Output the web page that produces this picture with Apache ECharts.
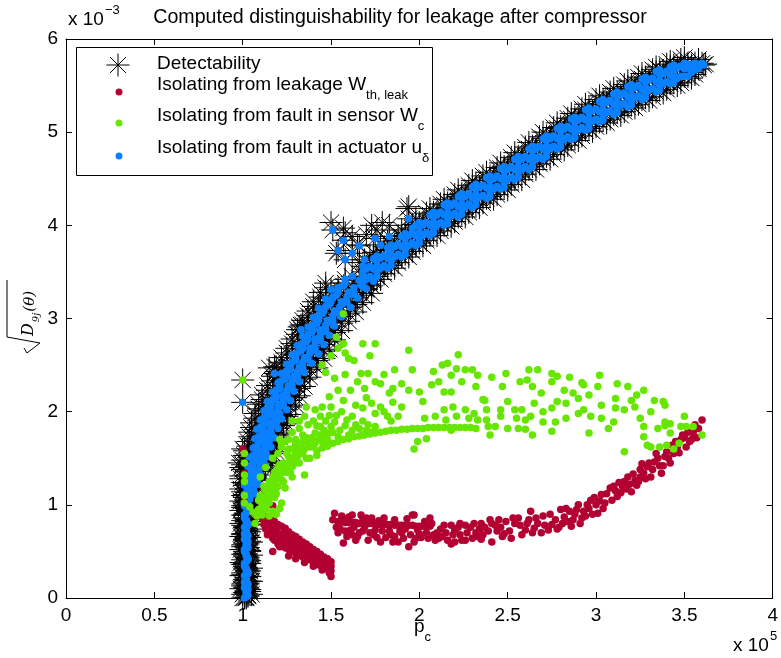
<!DOCTYPE html>
<html>
<head>
<meta charset="utf-8">
<title>Computed distinguishability for leakage after compressor</title>
<script src="https://cdn.jsdelivr.net/npm/echarts@6/dist/echarts.min.js"></script>
<style>
  html, body { margin: 0; padding: 0; background: #fff; }
  #chart { width: 781px; height: 658px; }
</style>
</head>
<body>
<div id="chart"></div>
<script>
// ---- DATA (x in 1e5, y in 1e-3) ----
const xTicks = { min: 0, max: 4, step: 0.5 };
const yTicks = { min: 0, max: 6, step: 1 };

// points where only the detectability star shows (the rest sit under the blue dots)
const detectOnlyPoints = [
  // spike at p_c ~ 1e5
  [1.0,0.0],[1.03,0.02],[1.01,0.06],[1.04,0.09],[1.0,0.13],[1.03,0.16],[1.01,0.2],[1.04,0.23],[1.0,0.27],[1.03,0.3],
  [1.01,0.34],[1.04,0.37],[1.0,0.41],[1.03,0.44],[1.01,0.48],[1.04,0.51],[1.0,0.55],[1.03,0.58],[1.01,0.62],[1.04,0.65],
  [1.0,0.69],[1.03,0.72],[1.01,0.76],[1.04,0.79],[1.0,0.83],[1.03,0.86],[1.01,0.9],[1.04,0.93],[1.0,0.97],[1.03,1.0],
  [0.99,1.04],[1.05,1.06],[1.0,1.1],[1.06,1.13],[0.99,1.17],[1.05,1.2],[1.0,1.24],[1.07,1.27],[0.99,1.31],[1.06,1.34],
  [1.0,1.38],[0.98,1.45],[1.0,1.6],[1.01,1.08],[1.05,0.04],[1.05,0.18],[1.05,0.32],[1.05,0.46],[1.05,0.6],[1.05,0.74],
  [0.99,0.1],[0.99,0.24],[0.99,0.38],[0.99,0.52],[0.99,0.66],[0.99,0.8],[0.99,0.94],
  [1.02,0.0],[1.0,0.04],[1.04,0.07],[1.02,0.11],[1.0,0.15],[1.04,0.18],[1.02,0.22],[1.0,0.25],[1.04,0.29],[1.02,0.33],
  [1.0,0.36],[1.04,0.4],[1.02,0.43],[1.0,0.47],[1.04,0.5],[1.02,0.54],[1.0,0.57],[1.04,0.61],[1.02,0.64],[1.0,0.68],
  [1.04,0.71],[1.02,0.75],[1.0,0.78],[1.04,0.82],[1.02,0.85],[1.0,0.89],[1.04,0.92],[1.02,0.96],[1.0,0.99],[1.04,1.03],
  [1.0,1.14],[1.03,1.22],[0.99,1.28],[1.02,1.36],[0.99,1.4],
  // edges of the band
  [1.0,1.43],[1.16,1.37],[1.01,1.53],[1.17,1.47],[1.03,1.63],[1.19,1.57],[1.04,1.73],[1.2,1.67],[1.05,1.83],[1.23,1.77],
  [1.07,1.93],[1.25,1.87],[1.09,2.03],[1.27,1.97],[1.11,2.13],[1.3,2.07],[1.14,2.23],[1.32,2.17],[1.17,2.33],[1.35,2.27],
  [1.19,2.43],[1.38,2.37],[1.22,2.53],[1.42,2.47],[1.25,2.63],[1.46,2.57],[1.28,2.73],[1.49,2.67],[1.31,2.83],[1.52,2.77],
  [1.34,2.93],[1.56,2.87],[1.37,3.03],[1.6,2.97],[1.4,3.13],[1.64,3.07],[1.44,3.23],[1.68,3.17],[1.47,3.33],[1.73,3.27],
  [1.0,1.48],[1.16,1.45],[1.01,1.58],[1.17,1.55],[1.03,1.68],[1.19,1.65],[1.04,1.78],[1.2,1.75],[1.05,1.88],[1.23,1.85],
  [1.07,1.98],[1.25,1.95],[1.09,2.08],[1.27,2.05],[1.11,2.18],[1.3,2.15],[1.14,2.28],[1.32,2.25],[1.17,2.38],[1.35,2.35],
  [1.19,2.48],[1.38,2.45],[1.22,2.58],[1.42,2.55],[1.25,2.68],[1.46,2.65],[1.28,2.78],[1.49,2.75],[1.31,2.88],[1.52,2.85],
  [1.34,2.98],[1.56,2.95],[1.37,3.08],[1.6,3.05],[1.4,3.18],[1.64,3.15],[1.44,3.28],[1.68,3.25],[1.47,3.38],[1.73,3.35],
  [1.66,3.6],[1.7,3.31],[1.74,3.71],[1.78,3.42],[1.82,3.83],[1.86,3.54],[1.9,3.95],[1.94,3.66],[1.98,4.07],[2.02,3.78],
  [2.06,4.18],[2.1,3.89],[2.14,4.28],[2.18,3.99],[2.22,4.38],[2.26,4.09],[2.3,4.48],[2.34,4.19],[2.38,4.57],[2.42,4.28],
  [2.46,4.67],[2.5,4.38],[2.54,4.78],[2.58,4.49],[2.62,4.89],[2.66,4.6],[2.7,5.0],[2.74,4.71],[2.78,5.1],[2.82,4.81],
  [2.86,5.2],[2.9,4.91],[2.94,5.3],[2.98,5.01],[3.02,5.39],[3.06,5.1],[3.1,5.47],[3.14,5.18],[3.18,5.55],[3.22,5.26],
  [3.26,5.63],[3.3,5.34],[3.34,5.7],[3.38,5.42],[3.42,5.76],[3.46,5.5],[3.5,5.8],[3.54,5.58],[3.62,5.73],[3.58,5.78],
  [1.72,3.66],[1.72,3.37],[1.8,3.77],[1.8,3.48],[1.88,3.89],[1.88,3.6],[1.96,4.01],[1.96,3.72],[2.04,4.13],[2.04,3.84],
  [2.12,4.23],[2.12,3.94],[2.2,4.33],[2.2,4.04],[2.28,4.43],[2.28,4.14],[2.36,4.53],[2.36,4.24],[2.44,4.62],[2.44,4.33],
  [2.52,4.73],[2.52,4.44],[2.6,4.84],[2.6,4.55],[2.68,4.95],[2.68,4.66],[2.76,5.05],[2.76,4.76],[2.84,5.15],[2.84,4.86],
  [2.92,5.25],[2.92,4.96],[3.0,5.35],[3.0,5.06],[3.08,5.43],[3.08,5.14],[3.16,5.51],[3.16,5.22],[3.24,5.59],[3.24,5.3],
  [3.32,5.67],[3.32,5.38],[3.4,5.73],[3.4,5.46],[3.48,5.78],[3.48,5.53],[3.56,5.62],
  // stray stars above the band
  [1.0,2.34],[1.15,2.47],[1.33,2.93],[1.5,4.03],[1.58,3.92],[1.65,3.79],[1.76,3.95],[1.79,4.03],[1.93,4.18],
  [1.57,3.97],[1.73,4.0],[1.83,4.0],[1.94,4.2],[1.62,3.88],[1.7,3.9],[1.53,3.7],[1.32,2.91],[1.18,2.48]
];

const leakPoints = [
  [1.01,1.55],[1.01,1.34],[1.01,1.03],[1.0,1.6],[1.1,0.93],[1.17,0.99],
  // first arm, falling
  [1.11,0.86],[1.12,0.79],[1.13,0.83],[1.13,0.74],[1.14,0.8],[1.15,0.71],[1.15,0.78],[1.16,0.68],[1.17,0.75],[1.17,0.64],
  [1.18,0.72],[1.19,0.62],[1.19,0.7],[1.2,0.58],[1.21,0.68],[1.21,0.55],[1.22,0.64],[1.23,0.58],[1.24,0.66],[1.24,0.54],
  [1.25,0.6],[1.26,0.52],[1.27,0.6],[1.28,0.5],[1.29,0.56],[1.3,0.48],[1.31,0.54],[1.32,0.46],[1.33,0.52],[1.34,0.44],
  [1.35,0.5],[1.36,0.42],[1.37,0.48],[1.38,0.41],[1.39,0.45],[1.4,0.38],[1.41,0.43],[1.42,0.36],[1.43,0.41],[1.44,0.35],
  [1.45,0.39],[1.46,0.33],[1.47,0.38],[1.48,0.31],[1.49,0.36],[1.5,0.29],[1.5,0.34],[1.5,0.23],[1.17,0.5],[1.24,0.75],
  [1.34,0.57],[1.26,0.45],[1.2,0.77],[1.28,0.62],
  [1.12,0.88],[1.14,0.86],[1.16,0.84],[1.18,0.82],[1.2,0.79],[1.22,0.77],[1.24,0.74],[1.26,0.71],[1.28,0.68],[1.3,0.66],
  [1.32,0.63],[1.34,0.6],[1.36,0.58],[1.38,0.55],[1.4,0.52],[1.42,0.5],[1.44,0.47],[1.46,0.44],[1.48,0.42],[1.5,0.39],
  [1.15,0.75],[1.19,0.74],[1.23,0.7],[1.27,0.64],[1.31,0.6],[1.35,0.55],[1.39,0.5],[1.43,0.45],[1.47,0.41],[1.14,0.68],
  [1.18,0.62],[1.22,0.6],[1.26,0.56],[1.3,0.52],[1.34,0.48],[1.38,0.44],[1.42,0.39],[1.46,0.36],[1.49,0.27],[1.45,0.3],
  [1.4,0.34],[1.35,0.38],[1.3,0.42],
  // second arm, thin line
  [1.54,0.82],[1.56,0.82],[1.58,0.81],[1.6,0.81],[1.62,0.81],[1.64,0.81],[1.66,0.8],[1.68,0.8],[1.7,0.8],[1.72,0.8],
  [1.74,0.8],[1.76,0.79],[1.78,0.79],[1.8,0.79],[1.82,0.79],[1.84,0.79],[1.86,0.78],[1.88,0.78],[1.9,0.78],[1.92,0.78],
  [1.94,0.78],[1.96,0.78],[1.98,0.77],[2.0,0.77],[2.02,0.77],[2.04,0.77],[2.06,0.77],
  // second arm, scatter
  [1.52,0.91],[1.54,0.7],[1.53,0.76],[1.57,0.59],[1.56,0.88],[1.59,0.66],[1.62,0.89],[1.61,0.73],[1.64,0.62],[1.67,0.89],
  [1.66,0.7],[1.69,0.76],[1.71,0.62],[1.73,0.86],[1.74,0.68],[1.77,0.83],[1.78,0.6],[1.81,0.65],[1.83,0.72],[1.86,0.84],
  [1.88,0.6],[1.9,0.7],[1.94,0.55],[1.97,0.89],[1.99,0.73],[2.03,0.82],[2.05,0.64],[2.09,0.62],[2.12,0.74],[2.15,0.7],
  [2.18,0.58],[2.2,0.73],[2.23,0.68],[2.26,0.62],[2.29,0.76],[2.32,0.7],[2.35,0.63],[2.37,0.76],[2.4,0.84],[2.41,0.6],
  [2.44,0.72],[2.47,0.66],[1.96,0.89],[1.92,0.74],[2.0,0.69],[2.07,0.8],[2.13,0.66],[2.18,0.78],[2.26,0.78],[2.33,0.66],
  [2.41,0.8],[2.45,0.84],[2.48,0.69],[2.54,0.8],[2.6,0.73],[2.63,0.93],[2.67,0.8],[2.73,0.73],[2.77,0.84],[2.82,0.87],
  [2.86,0.77],[2.9,1.0],[2.93,0.93],[2.97,1.05],[3.01,0.91],[3.03,1.11],[3.08,1.18],[3.12,1.09],[3.16,1.25],[3.2,1.14],
  [3.23,1.21],[3.27,1.34],[3.29,1.41],[3.31,1.3],[3.33,1.46],[3.37,1.34],[3.39,1.52],[3.4,1.57],[3.42,1.45],[3.46,1.62],
  [3.48,1.7],[3.51,1.62],[3.55,1.77],[3.6,1.91],[2.56,0.86],[2.58,0.68],[2.65,0.75],[2.7,0.88],[2.75,0.79],[2.8,0.95],
  [2.84,0.82],[2.88,0.9],[2.95,1.0],[2.99,1.08],[3.05,1.02],[3.1,1.2],[3.14,1.13],[3.18,1.3],[3.22,1.26],[3.25,1.38],
  [3.3,1.45],[3.35,1.5],[3.38,1.42],[3.44,1.55],[3.45,1.68],[3.5,1.72],[3.53,1.68],[3.58,1.82],[3.57,1.72],[3.25,1.3],
  [3.15,1.2],[3.0,1.0],[2.92,0.86],[2.85,0.93],[2.2,0.6],[2.1,0.7],[1.98,0.64],[1.86,0.66],[1.75,0.73],[1.62,0.68],
  [1.58,0.84],[1.68,0.85],[2.52,0.64],[2.62,0.84],[2.69,0.7],[2.79,0.76],[2.35,0.8],[2.23,0.8],
  [1.51,0.84],[1.55,0.75],[1.58,0.72],[1.6,0.87],[1.63,0.76],[1.65,0.66],[1.68,0.72],[1.7,0.86],[1.72,0.7],[1.76,0.65],
  [1.79,0.72],[1.8,0.86],[1.84,0.68],[1.85,0.6],[1.89,0.72],[1.91,0.64],[1.93,0.85],[1.95,0.68],[1.97,0.6],[2.01,0.65],
  [2.04,0.7],[2.06,0.86],[2.08,0.68],[2.11,0.64],[2.14,0.78],[2.16,0.62],[2.19,0.68],[2.22,0.76],[2.24,0.62],[2.27,0.7],
  [2.3,0.64],[2.31,0.8],[2.34,0.74],[2.36,0.68],[2.39,0.72],[2.43,0.78],[2.46,0.76],[2.49,0.82],[2.51,0.72],[2.53,0.86],
  [2.57,0.78],[2.61,0.8],[2.64,0.7],[2.66,0.86],[2.71,0.78],[2.74,0.9],[2.78,0.74],[2.81,0.8],[2.83,0.96],[2.87,0.84],
  [2.89,0.95],[2.91,0.8],[2.94,0.88],[2.96,0.96],[2.98,0.9],[3.02,1.04],[3.04,0.96],[3.06,1.12],[3.09,1.05],[3.11,1.15],
  [3.13,1.24],[3.17,1.17],[3.19,1.22],[3.21,1.33],[3.24,1.25],[3.26,1.44],[3.28,1.28],[3.32,1.38],[3.34,1.55],[3.36,1.42],
  [3.41,1.5],[3.43,1.64],[3.47,1.56],[3.49,1.75],[3.52,1.78],[3.54,1.7],[3.56,1.86]
];

const sensorPoints = [
  [1.0,2.34],[1.01,1.45],[1.01,1.25],[1.01,1.1],[1.57,3.05],
  // near the band
  [1.75,2.73],[1.68,2.73],[1.57,2.73],[1.58,2.63],[1.54,2.68],[1.6,2.57],[1.67,2.41],[1.71,2.41],[1.75,2.32],[1.52,2.36],
  [1.65,2.32],[1.54,2.23],[1.61,2.23],[1.69,2.25],[1.49,2.16],[1.57,2.12],[1.64,2.07],[1.68,2.04],[1.73,2.09],[1.75,1.98],
  [1.36,2.05],[1.41,2.02],[1.44,1.95],[1.49,1.96],[1.53,1.96],[1.59,1.91],[1.64,1.86],[1.71,1.86],[1.32,1.82],[1.37,1.86],
  [1.44,1.84],[1.5,1.84],[1.52,1.89],[1.28,1.78],[1.34,1.75],[1.41,1.77],[1.49,1.77],[1.54,1.73],[1.6,1.75],[1.68,1.75],
  [1.73,1.78],[1.75,1.84],[1.24,1.68],[1.3,1.66],[1.37,1.7],[1.45,1.68],[1.22,1.62],[1.21,1.7],
  [1.22,1.66],[1.3,1.64],[1.37,1.66],[1.47,1.66],[1.42,1.53],[1.34,1.55],[1.26,1.52],[1.21,1.43],[1.28,1.41],[1.35,1.32],
  [1.17,1.3],[1.22,1.27],[1.13,1.16],[1.19,1.12],[1.24,1.18],[1.09,1.05],[1.15,1.02],[1.21,0.96],[1.17,0.93],[1.11,0.89],
  [1.07,0.8],[1.04,0.98],[1.01,1.02],[1.01,1.55],[1.01,1.32],
  [1.1,1.1],[1.12,1.2],[1.15,1.25],[1.18,1.35],[1.2,1.4],[1.23,1.45],[1.25,1.35],[1.27,1.5],[1.3,1.55],[1.32,1.45],
  [1.35,1.6],[1.38,1.5],[1.4,1.62],[1.43,1.7],[1.3,1.7],[1.26,1.6],[1.33,1.62],[1.36,1.72],[1.47,1.75],[1.16,1.15],
  [1.2,1.2],[1.14,1.05],[1.18,1.08],[1.23,1.25],[1.28,1.3],[1.06,0.92],[1.09,0.95],[1.12,0.98],[1.22,1.02],[1.15,0.88],
  [1.19,0.9],[1.1,1.3],[1.13,1.4],[1.17,1.5],[1.2,1.55],[1.28,1.9],[1.35,1.95],[1.4,1.9],[1.45,2.05],[1.5,2.05],
  [1.56,2.0],[1.62,1.95],[1.68,1.9],[1.7,2.15],[1.78,2.05],[1.82,1.95],[1.85,2.25],[1.8,2.4],[1.58,2.4],[1.63,2.55],
  [1.72,2.6],[1.85,2.1],[1.9,2.3],[1.8,2.0],[1.83,2.2],[1.86,2.45],[1.78,2.3],[1.84,1.9],[1.45,2.5],[1.5,2.6],
  [1.53,2.8],[1.47,2.42],
  [1.12,1.08],[1.14,1.12],[1.16,1.2],[1.18,1.22],[1.19,1.28],[1.21,1.33],[1.22,1.38],[1.24,1.4],[1.26,1.45],[1.27,1.42],
  [1.29,1.5],[1.31,1.52],[1.33,1.58],[1.25,1.55],[1.28,1.6],[1.31,1.6],[1.34,1.68],[1.38,1.62],[1.39,1.72],[1.41,1.66],
  [1.44,1.75],[1.46,1.8],[1.48,1.7],[1.51,1.78],[1.55,1.8],[1.58,1.85],[1.62,1.8],[1.66,1.82],[1.7,1.8],[1.23,1.35],
  [1.2,1.3],[1.17,1.2],[1.14,1.15],[1.11,1.0],[1.13,0.95],[1.08,0.88],[1.16,1.1],[1.19,1.18],[1.27,1.35],[1.3,1.45],
  [1.36,1.5],[1.26,1.7],[1.32,1.9],[1.42,1.85],[1.47,1.9],
  // thin line
  [1.42,1.58],[1.45,1.61],[1.48,1.63],[1.51,1.66],[1.54,1.68],[1.57,1.7],[1.6,1.71],[1.63,1.73],[1.66,1.74],[1.69,1.75],
  [1.72,1.76],[1.75,1.77],[1.78,1.78],[1.81,1.79],[1.84,1.8],[1.87,1.8],[1.9,1.81],[1.93,1.81],[1.96,1.82],[1.99,1.82],
  [2.02,1.82],[2.05,1.83],[2.08,1.83],[2.11,1.83],[2.14,1.83],[2.17,1.83],[2.2,1.83],[2.23,1.83],[2.26,1.83],[2.29,1.83],
  [2.32,1.82],
  // right cloud
  [1.94,2.66],[2.22,2.61],[1.96,2.45],[2.08,2.43],[2.13,2.5],[2.16,2.52],[2.21,2.46],[2.18,2.39],[2.26,2.45],[2.3,2.45],
  [2.33,2.39],[2.41,2.37],[2.49,2.41],[2.62,2.45],[2.67,2.45],[2.75,2.41],[2.78,2.38],[2.85,2.37],[2.92,2.31],[3.02,2.39],
  [3.12,2.3],[3.18,2.27],[3.27,2.23],[2.11,2.32],[2.07,2.29],[2.14,2.21],[2.18,2.21],[2.24,2.32],[2.32,2.27],[2.37,2.12],
  [2.47,2.27],[2.57,2.32],[2.61,2.34],[2.64,2.27],[2.69,2.2],[2.75,2.32],[2.82,2.23],[2.87,2.2],[2.93,2.29],[3.01,2.27],
  [3.11,2.14],[3.2,2.12],[3.23,2.18],[3.33,2.12],[3.38,2.11],[1.94,2.23],[2.0,2.21],[2.02,2.11],[1.9,2.05],[2.14,2.02],
  [2.19,2.05],[2.26,2.02],[2.31,1.98],[2.36,2.13],[2.38,2.02],[2.46,2.02],[2.5,2.11],[2.54,2.02],[2.58,2.02],[2.65,2.09],
  [2.7,2.0],[2.75,2.04],[2.78,2.11],[2.83,2.09],[2.9,2.14],[2.93,2.02],[2.96,2.18],[3.03,2.07],[3.11,2.04],[3.16,2.02],
  [3.22,2.05],[3.31,2.0],[3.39,2.07],[3.5,1.95],[1.88,1.95],[2.03,1.93],[2.09,1.95],[2.15,1.91],[2.21,1.95],[2.28,1.93],
  [2.33,1.91],[2.38,1.91],[2.46,1.95],[2.55,1.93],[2.6,1.91],[2.63,1.95],[2.7,1.89],[2.77,1.89],[2.83,1.93],[2.9,1.98],
  [2.97,1.95],[3.03,1.93],[3.1,1.89],[3.25,1.93],[3.39,1.89],[3.42,1.87],[3.48,1.84],[3.55,1.84],[3.6,1.75],[2.18,1.8],
  [2.39,1.84],[2.43,1.84],[2.5,1.82],[2.56,1.82],[2.6,1.81],[2.75,1.79],[2.96,1.77],[3.07,1.82],[3.27,1.84],[3.35,1.82],
  [3.39,1.85],[3.42,1.77],[3.51,1.84],[2.64,1.75],[2.4,1.75],[1.99,1.68],[2.04,1.71],[1.97,1.6],[3.27,1.73],[3.29,1.64],
  [3.31,1.62],[3.36,1.62],[3.4,1.64],[3.44,1.6],[3.47,1.66],[3.16,1.57]
];

const actuatorPoints = [
  // spike
  [1.01,0.0],[1.03,0.03],[1.02,0.07],[1.01,0.11],[1.03,0.15],[1.02,0.19],[1.01,0.24],[1.03,0.28],[1.02,0.32],[1.01,0.37],
  [1.03,0.41],[1.02,0.45],[1.01,0.5],[1.03,0.54],[1.02,0.58],[1.01,0.63],[1.03,0.67],[1.02,0.71],[1.01,0.76],[1.03,0.8],
  [1.02,0.84],[1.01,0.89],[1.03,0.93],[1.02,0.97],
  [1.02,0.01],[1.02,0.05],[1.03,0.09],[1.02,0.13],[1.01,0.17],[1.02,0.22],[1.03,0.26],[1.02,0.3],[1.01,0.34],[1.02,0.39],
  [1.03,0.43],[1.02,0.47],[1.01,0.52],[1.02,0.56],[1.03,0.6],[1.02,0.65],[1.01,0.69],[1.02,0.73],[1.03,0.78],[1.02,0.82],
  [1.01,0.86],[1.02,0.91],[1.03,0.95],[1.01,0.99],
  // steep part
  [1.01,1.01],[1.02,0.98],[1.03,1.02],[1.02,1.05],[1.04,1.06],[1.01,1.11],[1.04,1.08],[1.07,1.12],[1.03,1.15],[1.06,1.16],
  [1.01,1.21],[1.05,1.18],[1.09,1.22],[1.04,1.25],[1.08,1.26],[1.02,1.31],[1.06,1.28],[1.1,1.32],[1.05,1.35],[1.09,1.36],
  [1.03,1.41],[1.08,1.38],[1.13,1.42],[1.06,1.45],[1.11,1.46],[1.04,1.51],[1.09,1.48],[1.14,1.52],[1.08,1.55],[1.13,1.56],
  [1.06,1.61],[1.11,1.58],[1.16,1.62],[1.09,1.65],[1.14,1.66],[1.07,1.71],[1.12,1.68],[1.18,1.72],[1.11,1.75],[1.16,1.76],
  [1.08,1.81],[1.14,1.78],[1.2,1.82],[1.12,1.85],[1.18,1.86],[1.1,1.91],[1.16,1.88],[1.22,1.92],[1.14,1.95],[1.2,1.96],
  [1.12,2.01],[1.18,1.98],[1.25,2.02],[1.16,2.05],[1.22,2.06],[1.14,2.11],[1.2,2.08],[1.27,2.12],[1.19,2.15],[1.25,2.16],
  [1.17,2.21],[1.23,2.18],[1.29,2.22],[1.21,2.25],[1.27,2.26],[1.2,2.31],[1.26,2.28],[1.32,2.32],[1.24,2.35],[1.3,2.36],
  [1.22,2.41],[1.29,2.38],[1.35,2.42],[1.27,2.45],[1.33,2.46],[1.25,2.51],[1.32,2.48],[1.39,2.52],[1.3,2.55],[1.36,2.56],
  [1.28,2.61],[1.35,2.58],[1.43,2.62],[1.33,2.65],[1.4,2.66],[1.31,2.71],[1.38,2.68],[1.46,2.72],[1.36,2.75],[1.43,2.76],
  [1.34,2.81],[1.41,2.78],[1.49,2.82],[1.39,2.85],[1.46,2.86],[1.37,2.91],[1.44,2.88],[1.52,2.92],[1.42,2.95],[1.5,2.96],
  [1.4,3.01],[1.48,2.98],[1.56,3.02],[1.45,3.05],[1.53,3.06],[1.43,3.11],[1.52,3.08],[1.61,3.12],[1.49,3.15],[1.57,3.16],
  [1.47,3.21],[1.56,3.18],[1.65,3.22],[1.53,3.25],[1.62,3.26],[1.5,3.31],[1.6,3.28],[1.7,3.32],[1.57,3.35],[1.67,3.36],
  [1.01,1.03],[1.02,1.03],[1.02,1.08],[1.03,1.08],[1.02,1.13],[1.05,1.13],[1.03,1.18],[1.06,1.18],[1.03,1.23],[1.06,1.23],
  [1.04,1.28],[1.08,1.28],[1.04,1.33],[1.07,1.33],[1.05,1.38],[1.09,1.38],[1.05,1.43],[1.1,1.43],[1.07,1.48],[1.12,1.48],
  [1.06,1.53],[1.11,1.53],[1.08,1.58],[1.13,1.58],[1.08,1.63],[1.13,1.63],[1.1,1.68],[1.15,1.68],[1.09,1.73],[1.14,1.73],
  [1.11,1.78],[1.16,1.78],[1.1,1.83],[1.16,1.83],[1.13,1.88],[1.19,1.88],[1.12,1.93],[1.18,1.93],[1.15,1.98],[1.21,1.98],
  [1.14,2.03],[1.2,2.03],[1.16,2.08],[1.23,2.08],[1.17,2.13],[1.23,2.13],[1.19,2.18],[1.25,2.18],[1.19,2.23],[1.25,2.23],
  [1.21,2.28],[1.28,2.28],[1.22,2.33],[1.28,2.33],[1.25,2.38],[1.31,2.38],[1.25,2.43],[1.31,2.43],[1.27,2.48],[1.34,2.48],
  [1.28,2.53],[1.34,2.53],[1.3,2.58],[1.37,2.58],[1.31,2.63],[1.38,2.63],[1.34,2.68],[1.41,2.68],[1.34,2.73],[1.41,2.73],
  [1.37,2.78],[1.44,2.78],[1.37,2.83],[1.44,2.83],[1.4,2.88],[1.47,2.88],[1.4,2.93],[1.47,2.93],[1.43,2.98],[1.51,2.98],
  [1.43,3.03],[1.51,3.03],[1.46,3.08],[1.54,3.08],[1.47,3.13],[1.55,3.13],[1.5,3.18],[1.59,3.18],[1.51,3.23],[1.59,3.23],
  [1.54,3.28],[1.63,3.28],[1.54,3.33],[1.63,3.33],[1.58,3.38],[1.68,3.38],[1.58,3.42],[1.66,3.41],[1.74,3.4],[1.62,3.45],
  [1.7,3.44],
  // flatter part
  [1.68,3.56],[1.68,3.45],[1.68,3.34],[1.72,3.56],[1.72,3.45],[1.76,3.67],[1.76,3.56],[1.76,3.45],[1.8,3.68],[1.8,3.57],
  [1.84,3.79],[1.84,3.68],[1.84,3.57],[1.88,3.8],[1.88,3.69],[1.92,3.91],[1.92,3.8],[1.92,3.69],[1.96,3.92],[1.96,3.81],
  [2.0,4.03],[2.0,3.92],[2.0,3.81],[2.04,4.03],[2.04,3.92],[2.08,4.14],[2.08,4.03],[2.08,3.92],[2.12,4.14],[2.12,4.03],
  [2.16,4.24],[2.16,4.13],[2.16,4.02],[2.2,4.24],[2.2,4.13],[2.24,4.34],[2.24,4.23],[2.24,4.12],[2.28,4.34],[2.28,4.23],
  [2.32,4.44],[2.32,4.33],[2.32,4.22],[2.36,4.43],[2.36,4.32],[2.4,4.53],[2.4,4.42],[2.4,4.31],[2.44,4.53],[2.44,4.42],
  [2.48,4.63],[2.48,4.52],[2.48,4.41],[2.52,4.63],[2.52,4.52],[2.56,4.74],[2.56,4.63],[2.56,4.52],[2.6,4.74],[2.6,4.63],
  [2.64,4.85],[2.64,4.74],[2.64,4.63],[2.68,4.85],[2.68,4.74],[2.72,4.96],[2.72,4.85],[2.72,4.74],[2.76,4.96],[2.76,4.85],
  [2.8,5.06],[2.8,4.95],[2.8,4.84],[2.84,5.06],[2.84,4.95],[2.88,5.16],[2.88,5.05],[2.88,4.94],[2.92,5.16],[2.92,5.05],
  [2.96,5.26],[2.96,5.15],[2.96,5.04],[3.0,5.25],[3.0,5.14],[3.04,5.35],[3.04,5.24],[3.04,5.13],[3.08,5.34],[3.08,5.23],
  [3.12,5.43],[3.12,5.32],[3.12,5.21],[3.16,5.42],[3.16,5.31],[3.2,5.51],[3.2,5.4],[3.2,5.29],[3.24,5.5],[3.24,5.39],
  [3.28,5.59],[3.28,5.48],[3.28,5.37],[3.32,5.58],[3.32,5.47],[3.36,5.67],[3.36,5.56],[3.36,5.45],[3.4,5.65],[3.4,5.54],
  [3.44,5.72],[3.44,5.63],[3.44,5.53],[3.48,5.71],[3.48,5.6],[3.52,5.73],[3.52,5.69],[3.52,5.6],[3.56,5.74],[3.56,5.67],
  [3.6,5.74],[3.61,5.72],
  [1.7,3.53],[1.7,3.42],[1.74,3.64],[1.74,3.53],[1.74,3.42],[1.78,3.65],[1.78,3.54],[1.82,3.76],[1.82,3.65],[1.82,3.54],
  [1.86,3.77],[1.86,3.66],[1.9,3.88],[1.9,3.77],[1.9,3.66],[1.94,3.89],[1.94,3.78],[1.98,4.0],[1.98,3.89],[1.98,3.78],
  [2.02,4.0],[2.02,3.89],[2.06,4.11],[2.06,4.0],[2.06,3.89],[2.1,4.11],[2.1,4.0],[2.14,4.22],[2.14,4.11],[2.14,4.0],
  [2.18,4.21],[2.18,4.1],[2.22,4.31],[2.22,4.2],[2.22,4.09],[2.26,4.31],[2.26,4.2],[2.3,4.41],[2.3,4.3],[2.3,4.19],
  [2.34,4.41],[2.34,4.3],[2.38,4.51],[2.38,4.4],[2.38,4.29],[2.42,4.5],[2.42,4.39],[2.46,4.61],[2.46,4.5],[2.46,4.39],
  [2.5,4.6],[2.5,4.49],[2.54,4.71],[2.54,4.6],[2.54,4.49],[2.58,4.71],[2.58,4.6],[2.62,4.82],[2.62,4.71],[2.62,4.6],
  [2.66,4.82],[2.66,4.71],[2.7,4.93],[2.7,4.82],[2.7,4.71],[2.74,4.93],[2.74,4.82],[2.78,5.04],[2.78,4.93],[2.78,4.82],
  [2.82,5.03],[2.82,4.92],[2.86,5.14],[2.86,5.03],[2.86,4.92],[2.9,5.13],[2.9,5.02],[2.94,5.24],[2.94,5.13],[2.94,5.02],
  [2.98,5.23],[2.98,5.12],[3.02,5.33],[3.02,5.22],[3.02,5.11],[3.06,5.32],[3.06,5.21],[3.1,5.41],[3.1,5.3],[3.1,5.19],
  [3.14,5.4],[3.14,5.29],[3.18,5.49],[3.18,5.38],[3.18,5.27],[3.22,5.48],[3.22,5.37],[3.26,5.57],[3.26,5.46],[3.26,5.35],
  [3.3,5.56],[3.3,5.45],[3.34,5.65],[3.34,5.54],[3.34,5.43],[3.38,5.63],[3.38,5.52],[3.42,5.7],[3.42,5.61],[3.42,5.52],
  [3.46,5.69],[3.46,5.58],[3.5,5.74],[3.5,5.68],[3.5,5.6],[3.54,5.72],[3.54,5.64],[3.58,5.73],[3.58,5.68],
  [1.68,3.5],[1.68,3.4],[1.76,3.62],[1.76,3.5],[1.84,3.74],[1.84,3.62],[1.92,3.86],[1.92,3.74],[2.0,3.98],[2.0,3.86],
  [2.08,4.09],[2.08,3.97],[2.16,4.19],[2.16,4.07],[2.24,4.29],[2.24,4.17],[2.32,4.39],[2.32,4.27],[2.4,4.48],[2.4,4.36],
  [2.48,4.58],[2.48,4.46],[2.56,4.69],[2.56,4.57],[2.64,4.8],[2.64,4.68],[2.72,4.91],[2.72,4.79],[2.8,5.01],[2.8,4.89],
  [2.88,5.11],[2.88,4.99],[2.96,5.21],[2.96,5.09],[3.04,5.3],[3.04,5.18],[3.12,5.38],[3.12,5.26],[3.2,5.46],[3.2,5.34],
  [3.28,5.54],[3.28,5.42],[3.36,5.62],[3.36,5.5],[3.44,5.68],[3.44,5.58],
  // strays
  [1.0,2.1],[1.18,2.41],[1.33,2.88],[1.51,3.95],[1.57,3.84],[1.54,3.73],[1.58,3.63],[1.75,3.86],[1.78,3.79],[1.83,3.88],
  [1.83,3.73],[1.94,4.07],[1.96,3.97],[1.69,3.63],[1.62,3.7],[1.66,3.78]
];

// detectability is at least every isolability: the stars sit on the blue dots plus the extra points
const detectPoints = detectOnlyPoints.concat(actuatorPoints);

// ---- STYLE HELPERS ----
const FONT = '"Liberation Sans", Arial, sans-serif';
const starPath = 'path://M12,0L12,24M0,12L24,12M3.5,3.5L20.5,20.5M3.5,20.5L20.5,3.5';
const RED = '#b30033', GREEN = '#66e600', BLUE = '#0a80ff';
const DOT = 7.5;

const measureCtx = document.createElement('canvas').getContext('2d');
function textWidth(str, font) {
  measureCtx.font = font;
  return measureCtx.measureText(str).width;
}

function txt(x, y, text, size, extra) {
  return Object.assign({
    type: 'text', x: x, y: y, z: 100,
    style: {
      text: text, fill: '#000',
      font: size + 'px ' + FONT,
      textAlign: 'left', textVerticalAlign: 'middle',
      align: 'left', verticalAlign: 'middle'
    }
  }, extra || {});
}

// text followed by a subscript
function withSub(x, y, main, sub, size, subSize) {
  const w = textWidth(main, size + 'px ' + FONT);
  return [txt(x, y, main, size), txt(x + w, y + 10, sub, subSize)];
}

function seg(x1, y1, x2, y2) {
  return { type: 'line', z: 100, shape: { x1: x1, y1: y1, x2: x2, y2: y2 }, style: { stroke: '#000', lineWidth: 1 } };
}

// ---- GRAPHIC: legend, labels ----
function buildGraphic() {
  const g = [];
  // title
  const titleText = 'Computed distinguishability for leakage after compressor';
  const tw = textWidth(titleText, '19.6px ' + FONT);
  g.push(txt(400 - tw / 2, 18, titleText, 19.6));

  // axis multipliers
  const x10 = 'x 10';
  const w10 = textWidth(x10, '19px ' + FONT);
  g.push(txt(68, 20, x10, 19), txt(68 + w10 + 1, 10, '\u22123', 13));
  g.push(txt(733, 646, x10, 19), txt(733 + w10 + 1, 636, '5', 13));

  // x label p_c
  g.push(...withSub(414, 627, 'p', 'c', 19, 13));

  // y label sqrt(D_9j(theta)) rotated
  const serif = '"DejaVu Serif", serif';
  const fD = 'italic 16px ' + serif, fS = 'italic 10px ' + serif, fP = 'italic 15px ' + serif;
  const wD = textWidth('D', fD), wS = textWidth('9j', fS);
  const ytxt = (x, y, t, f) => ({
    type: 'text', x: x, y: y, z: 100, rotation: Math.PI / 2,
    style: { text: t, font: f, fill: '#000', textAlign: 'left', align: 'left', textVerticalAlign: 'bottom', verticalAlign: 'bottom' }
  });
  g.push(ytxt(37, 336, 'D', fD));
  g.push(ytxt(41, 335 - wD, '9j', fS));
  g.push(ytxt(38, 334 - wD - wS, '(\u03b8)', fP));
  g.push({
    type: 'polyline', z: 100,
    shape: { points: [[24, 348], [27, 353], [40, 343], [7, 337], [7, 280]] },
    style: { stroke: '#000', lineWidth: 1, fill: null }
  });

  // legend box
  g.push({
    type: 'rect', z: 90,
    shape: { x: 76.5, y: 47.5, width: 356, height: 128 },
    style: { fill: '#fff', stroke: '#000', lineWidth: 1 }
  });
  g.push(seg(118, 53.5, 118, 76.5), seg(106.5, 65, 129.5, 65), seg(110, 57, 126, 73), seg(110, 73, 126, 57));
  const dot = (cx, cy, c) => ({ type: 'circle', z: 100, shape: { cx: cx, cy: cy, r: 3.5 }, style: { fill: c } });
  g.push(dot(119, 92, RED), dot(119, 123, GREEN), dot(119, 156, BLUE));
  g.push(txt(157, 64, 'Detectability', 19));
  g.push(...withSub(157, 85, 'Isolating from leakage W', 'th, leak', 19, 13));
  g.push(...withSub(157, 116, 'Isolating from fault in sensor W', 'c', 19, 13));
  g.push(...withSub(157, 148, 'Isolating from fault in actuator u', '\u03b4', 19, 13));
  return g;
}

// ---- CHART ----
function initChart() {
  const chart = echarts.init(document.getElementById('chart'), null, { renderer: 'canvas' });
  const axisCommon = {
    type: 'value',
    axisLine: { show: true, onZero: false, lineStyle: { color: '#000', width: 1 } },
    axisTick: { show: true, inside: true, length: 6, lineStyle: { color: '#000' } },
    splitLine: { show: false }
  };
  const labelStyle = { color: '#000', fontSize: 19, fontFamily: FONT };
  chart.setOption({
    animation: false,
    backgroundColor: '#fff',
    grid: { left: 66, right: 5, top: 39, bottom: 60 },
    xAxis: [
      Object.assign({}, axisCommon, {
        position: 'bottom', min: xTicks.min, max: xTicks.max, interval: xTicks.step,
        axisLabel: Object.assign({ margin: 8 }, labelStyle)
      }),
      Object.assign({}, axisCommon, {
        position: 'top', min: xTicks.min, max: xTicks.max, interval: xTicks.step,
        axisLabel: { show: false }
      })
    ],
    yAxis: [
      Object.assign({}, axisCommon, {
        position: 'left', min: yTicks.min, max: yTicks.max, interval: yTicks.step,
        axisLabel: Object.assign({ margin: 8 }, labelStyle)
      }),
      Object.assign({}, axisCommon, {
        position: 'right', min: yTicks.min, max: yTicks.max, interval: yTicks.step,
        axisLabel: { show: false }
      })
    ],
    series: [
      {
        name: 'Detectability', type: 'scatter', data: detectPoints, clip: false,
        symbol: starPath, symbolSize: 23, symbolKeepAspect: true,
        itemStyle: { color: 'rgba(0,0,0,0)', borderColor: '#000', borderWidth: 1, opacity: 1 }
      },
      {
        name: 'Isolating from fault in actuator', type: 'scatter', data: actuatorPoints,
        symbol: 'circle', symbolSize: DOT, itemStyle: { color: BLUE, opacity: 1 }
      },
      {
        name: 'Isolating from leakage', type: 'scatter', data: leakPoints,
        symbol: 'circle', symbolSize: DOT, itemStyle: { color: RED, opacity: 1 }
      },
      {
        name: 'Isolating from fault in sensor', type: 'scatter', data: sensorPoints,
        symbol: 'circle', symbolSize: DOT, itemStyle: { color: GREEN, opacity: 1 }
      }
    ],
    graphic: buildGraphic()
  });
}

document.addEventListener('DOMContentLoaded', initChart);
</script>
</body>
</html>
